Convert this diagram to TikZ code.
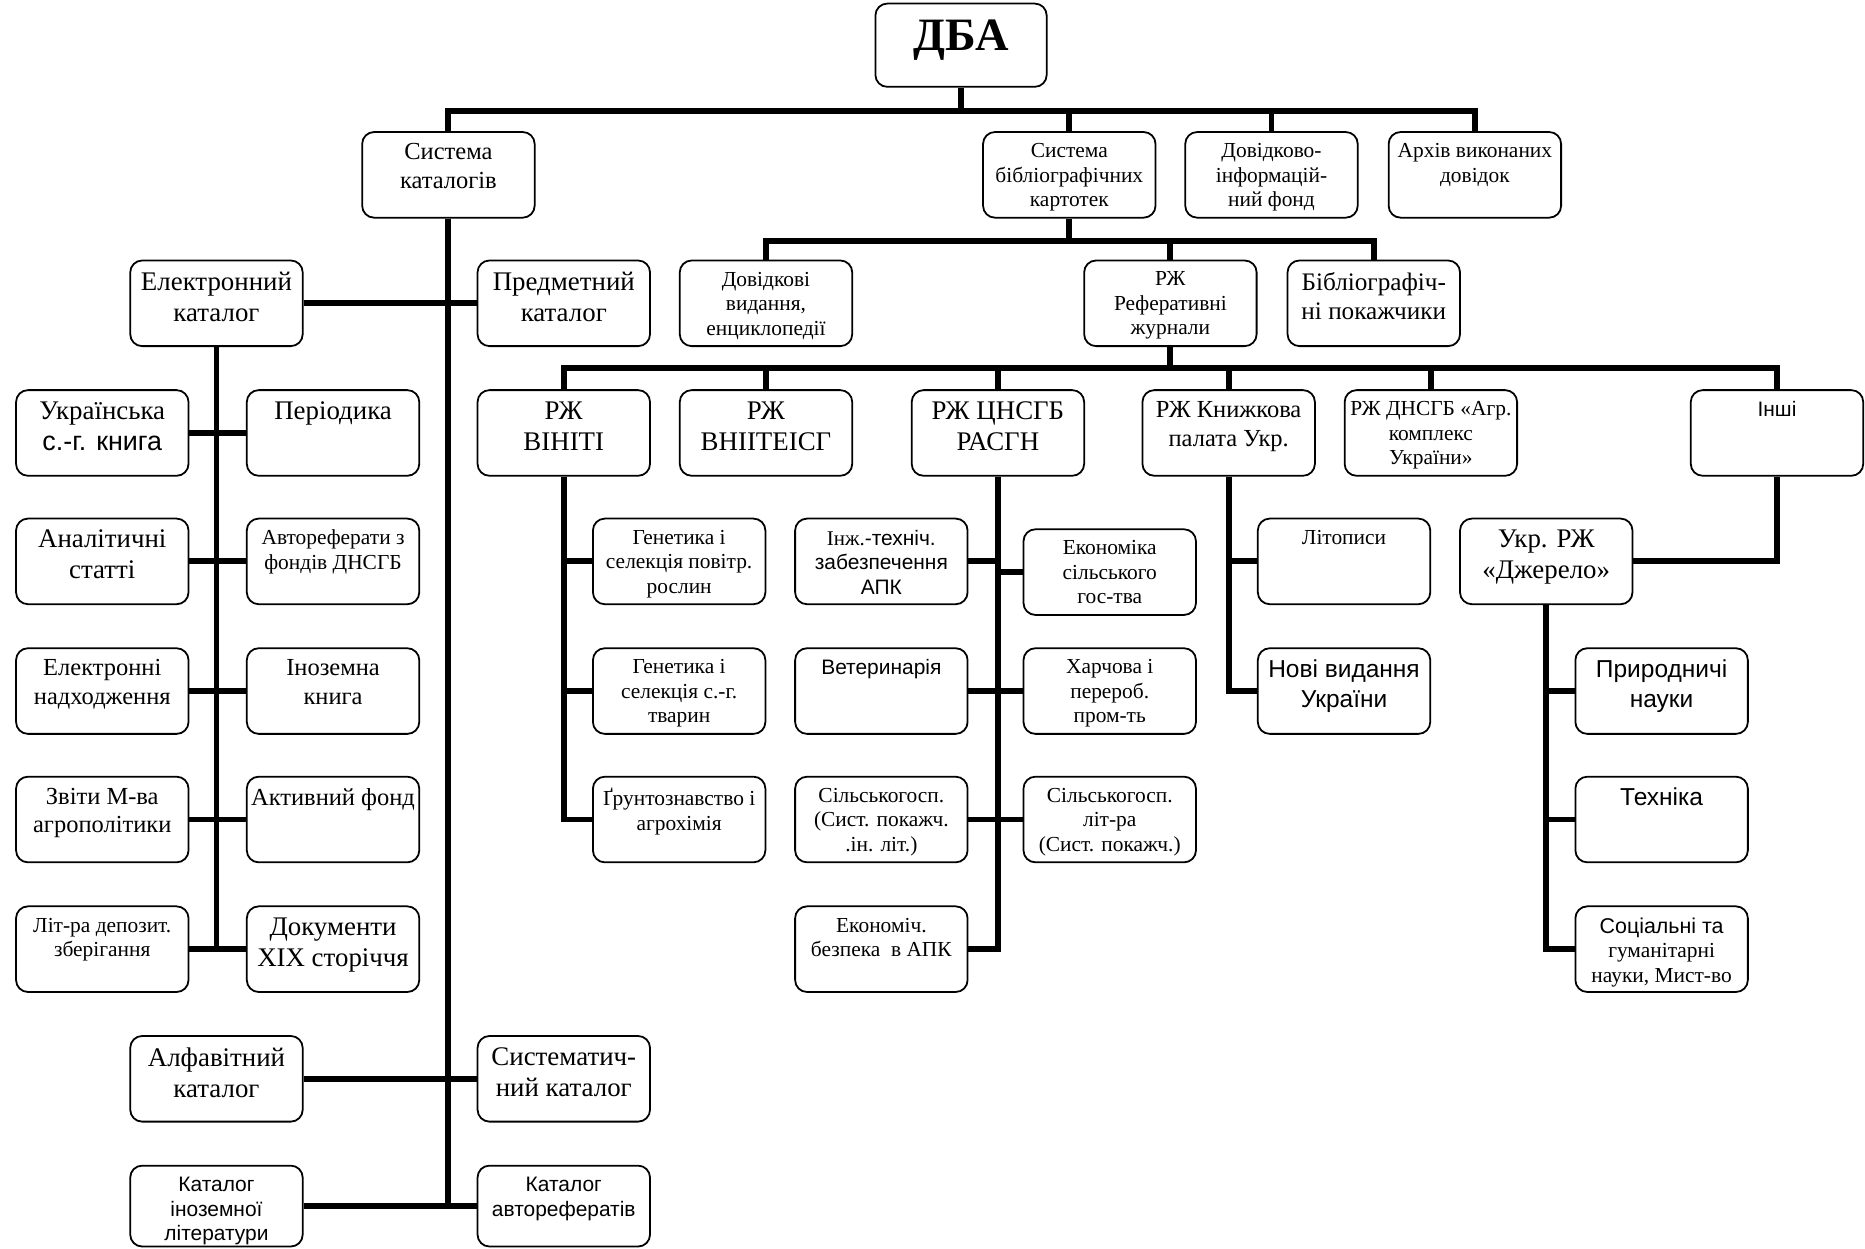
\documentclass[tikz,border=0pt]{standalone}
\usepackage{fontspec}
\setmainfont{Liberation Serif}
\setsansfont{Liberation Sans}
\usetikzlibrary{backgrounds}

\begin{document}
\begin{tikzpicture}[x=0.5pt,y=-0.5pt,
  box/.style={draw,line width=0.75pt,rounded corners=5pt,fill=white,minimum width=72.5pt,minimum height=36pt,inner sep=0pt},
  lbl/.style={anchor=north,yshift=-5pt,align=center,inner sep=0pt},
  conn/.style={line width=2.5pt},
  fa/.style={font=\fontsize{11.3}{13}\selectfont},
  fb/.style={font=\fontsize{10.3}{12}\selectfont},
  fc/.style={font=\fontsize{9}{10.3}\selectfont},
  sa/.style={font=\sffamily\fontsize{10.3}{12.5}\selectfont},
  sc/.style={font=\sffamily\fontsize{8.8}{10.3}\selectfont}]
\useasboundingbox (0,0) rectangle (1568,1050);

\node[box,minimum width=72pt,minimum height=35pt,label={[lbl,yshift=-2pt,font=\bfseries\fontsize{19.5}{22}\selectfont]north:ДБА}] (dba) at (808,38) {};

\node[box,label={[lbl,fb]north:{Система\\каталогів}}] (syskat) at (377,147) {};
\node[box,label={[lbl,fc]north:{Система\\бібліографічних\\картотек}}] (sysbib) at (899,147) {};
\node[box,label={[lbl,fc]north:{Довідково-\\інформацій-\\ний фонд}}] (dovinf) at (1069,147) {};
\node[box,label={[lbl,fc]north:{Архів виконаних\\довідок}}] (arkhiv) at (1240,147) {};

\node[box,label={[lbl,fa]north:{Електронний\\каталог}}] (elkat) at (182,255) {};
\node[box,label={[lbl,fa]north:{Предметний\\каталог}}] (predm) at (474,255) {};
\node[box,label={[lbl,fc]north:{Довідкові\\видання,\\енциклопедії}}] (dovid) at (644,255) {};
\node[box,label={[lbl,fc]north:{РЖ\\Реферативні\\журнали}}] (rzhref) at (984,255) {};
\node[box,label={[lbl,font=\fontsize{10.6}{12.2}\selectfont]north:{Бібліографіч-\\ні покажчики}}] (bibl) at (1155,255) {};

\node[box,label={[lbl,fa]north:{Українська\\{\sffamily с.-г. книга}}}] (ukr) at (86,364) {};
\node[box,label={[lbl,fa]north:{Періодика}}] (period) at (280,364) {};
\node[box,label={[lbl,fa]north:{Аналітичні\\статті}}] (anal) at (86,472) {};
\node[box,label={[lbl,fc]north:{Автореферати з\\фондів ДНСГБ}}] (avtoref) at (280,472) {};
\node[box,label={[lbl,fb]north:{Електронні\\надходження}}] (elnad) at (86,581) {};
\node[box,label={[lbl,fb]north:{Іноземна\\книга}}] (inoz) at (280,581) {};
\node[box,label={[lbl,fb]north:{Звіти М-ва\\агрополітики}}] (zvity) at (86,689) {};
\node[box,label={[lbl,fb]north:{Активний фонд}}] (aktyv) at (280,689) {};
\node[box,label={[lbl,fc]north:{Літ-ра депозит.\\зберігання}}] (litra) at (86,798) {};
\node[box,label={[lbl,fa]north:{Документи\\XIX сторіччя}}] (dokum) at (280,798) {};
\node[box,label={[lbl,fa]north:{Алфавітний\\каталог}}] (alf) at (182,907) {};
\node[box,label={[lbl,fa]north:{Систематич-\\ний каталог}}] (syst) at (474,907) {};
\node[box,minimum height=34pt,label={[lbl,sc]north:{Каталог\\іноземної\\літератури}}] (katin) at (182,1014) {};
\node[box,minimum height=34pt,label={[lbl,sc]north:{Каталог\\авторефератів}}] (katavt) at (474,1014) {};

\node[box,label={[lbl,fa]north:{РЖ\\ВІНІТІ}}] (viniti) at (474,364) {};
\node[box,label={[lbl,fa]north:{РЖ\\ВНІІТЕІСГ}}] (vniit) at (644,364) {};
\node[box,label={[lbl,fa]north:{РЖ ЦНСГБ\\РАСГН}}] (cnsgb) at (839,364) {};
\node[box,label={[lbl,fb]north:{РЖ Книжкова\\палата Укр.}}] (knyzh) at (1033,364) {};
\node[box,label={[lbl,fc]north:{РЖ ДНСГБ «Агр.\\комплекс\\України»}}] (dnsgb) at (1203,364) {};
\node[box,label={[lbl,sc]north:{Інші}}] (inshi) at (1494,364) {};

\node[box,label={[lbl,fc]north:{Генетика і\\селекція повітр.\\рослин}}] (gen1) at (571,472) {};
\node[box,label={[lbl,fc]north:{Генетика і\\селекція с.-г.\\тварин}}] (gen2) at (571,581) {};
\node[box,label={[lbl,fc]north:{Ґрунтознавство і\\агрохімія}}] (grunt) at (571,689) {};

\node[box,label={[lbl,sc]north:{{\rmfamily Інж.}-техніч.\\забезпечення\\АПК}}] (inzh) at (741,472) {};
\node[box,label={[lbl,sc]north:{Ветеринарія}}] (vet) at (741,581) {};
\node[box,label={[lbl,fc]north:{Сільськогосп.\\(Сист. покажч.\\.ін. літ.)}}] (silg1) at (741,689) {};
\node[box,label={[lbl,fc]north:{Економіч.\\безпека~~в АПК}}] (ekon) at (741,798) {};
\node[box,label={[lbl,fc]north:{Економіка\\сільського\\гос-тва}}] (ekonsg) at (933,481) {};
\node[box,label={[lbl,fc]north:{Харчова і\\перероб.\\пром-ть}}] (harch) at (933,581) {};
\node[box,label={[lbl,fc]north:{Сільськогосп.\\літ-ра\\(Сист. покажч.)}}] (silg2) at (933,689) {};

\node[box,label={[lbl,fc]north:{Літописи}}] (litop) at (1130,472) {};
\node[box,label={[lbl,sa]north:{Нові видання\\України}}] (novi) at (1130,581) {};

\node[box,label={[lbl,fa]north:{Укр. РЖ\\«Джерело»}}] (dzherelo) at (1300,472) {};
\node[box,label={[lbl,sa]north:{Природничі\\науки}}] (pryr) at (1397,581) {};
\node[box,label={[lbl,sa]north:{Техніка}}] (tekh) at (1397,689) {};
\node[box,label={[lbl,fc]north:{{\sffamily Соціальні та}\\гуманітарні\\науки, Мист-во}}] (soc) at (1397,798) {};

\coordinate (bus1) at (808,93);
\coordinate (bus2) at (899,203);
\coordinate (bus3) at (984,309);

\begin{scope}[on background layer]
\draw[conn] (dba.south) -- (bus1);
\draw[conn] (syskat.north) |- (bus1) -| (arkhiv.north);
\draw[conn] (sysbib.north) -- (sysbib.north |- bus1);
\draw[conn] (dovinf.north) -- (dovinf.north |- bus1);

\draw[conn] (sysbib.south) -- (bus2);
\draw[conn] (dovid.north) |- (bus2) -| (bibl.north);
\draw[conn] (rzhref.north) -- (rzhref.north |- bus2);

\draw[conn] (rzhref.south) -- (bus3);
\draw[conn] (viniti.north) |- (bus3) -| (inshi.north);
\draw[conn] (vniit.north) -- (vniit.north |- bus3);
\draw[conn] (cnsgb.north) -- (cnsgb.north |- bus3);
\draw[conn] (knyzh.north) -- (knyzh.north |- bus3);
\draw[conn] (dnsgb.north) -- (dnsgb.north |- bus3);

\draw[conn] (syskat.south) -- (syskat.south |- katin.east);
\draw[conn] (elkat.east) -- (predm.west);
\draw[conn] (alf.east) -- (syst.west);
\draw[conn] (katin.east) -- (katavt.west);

\draw[conn] (elkat.south) -- (elkat.south |- litra.east);
\draw[conn] (ukr.east) -- (period.west);
\draw[conn] (anal.east) -- (avtoref.west);
\draw[conn] (elnad.east) -- (inoz.west);
\draw[conn] (zvity.east) -- (aktyv.west);
\draw[conn] (litra.east) -- (dokum.west);

\draw[conn] (viniti.south) |- (gen1.west);
\draw[conn] (viniti.south) |- (gen2.west);
\draw[conn] (viniti.south) |- (grunt.west);

\draw[conn] (cnsgb.south) |- (ekon.east);
\draw[conn] (inzh.east) -- (inzh.east -| cnsgb.south);
\draw[conn] (vet.east) -- (vet.east -| cnsgb.south);
\draw[conn] (silg1.east) -- (silg1.east -| cnsgb.south);
\draw[conn] (ekonsg.west) -- (ekonsg.west -| cnsgb.south);
\draw[conn] (harch.west) -- (harch.west -| cnsgb.south);
\draw[conn] (silg2.west) -- (silg2.west -| cnsgb.south);

\draw[conn] (knyzh.south) |- (litop.west);
\draw[conn] (knyzh.south) |- (novi.west);

\draw[conn] (inshi.south) |- (dzherelo.east);
\draw[conn] (dzherelo.south) |- (pryr.west);
\draw[conn] (dzherelo.south) |- (tekh.west);
\draw[conn] (dzherelo.south) |- (soc.west);
\end{scope}
\end{tikzpicture}
\end{document}
